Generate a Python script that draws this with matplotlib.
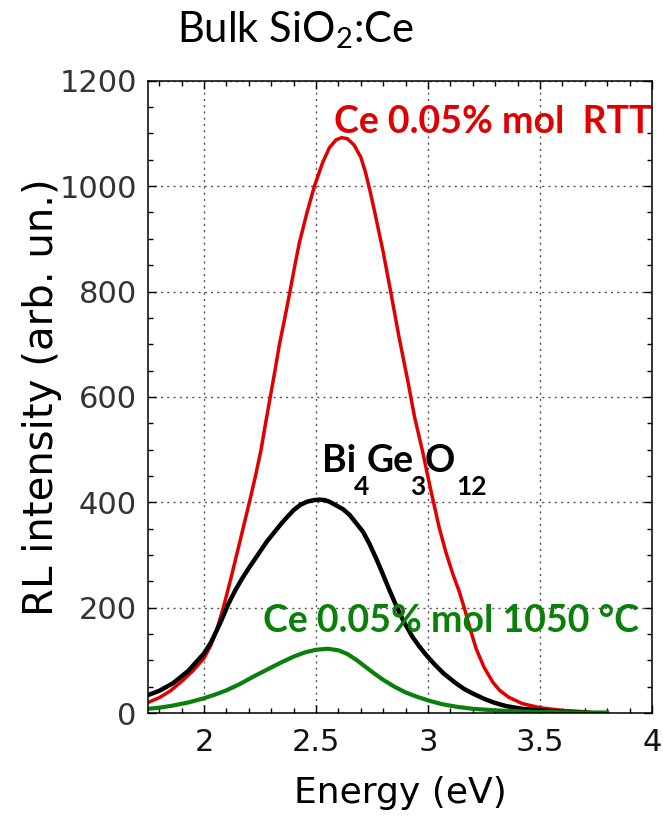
import matplotlib
matplotlib.use("Agg")
import matplotlib.pyplot as plt
from matplotlib.ticker import MultipleLocator

plt.rcParams['mathtext.fontset'] = 'custom'
plt.rcParams['mathtext.rm'] = 'Lato'
plt.rcParams['mathtext.bf'] = 'Lato:bold'

# Ce 0.05% mol RTT (red)
e_rtt = [1.75, 1.80, 1.85, 1.90, 1.95, 2.00, 2.03, 2.055, 2.085, 2.12, 2.16, 2.205,
         2.23, 2.255, 2.275, 2.296, 2.317, 2.337, 2.36, 2.382, 2.405, 2.426, 2.46, 2.493,
         2.53, 2.56, 2.59, 2.615, 2.64, 2.67, 2.70, 2.72, 2.74, 2.76, 2.78, 2.80,
         2.835, 2.87, 2.91, 2.94, 2.975, 3.01, 3.05, 3.08, 3.11, 3.14, 3.165, 3.19,
         3.215, 3.25, 3.29, 3.32, 3.36, 3.42, 3.50, 3.60, 3.72]
i_rtt = [20, 29, 42, 60, 80, 104, 128, 155, 198, 255, 325, 404,
         450, 500, 550, 600, 650, 700, 748, 796, 848, 893, 950, 1000,
         1045, 1073, 1088, 1092, 1090, 1078, 1055, 1028, 993, 955, 915, 875,
         796, 715, 630, 562, 498, 428, 352, 305, 265, 230, 195, 157,
         122, 87, 58, 43, 30, 18, 10, 5, 2]

# Bi4Ge3O12 reference (black)
e_bgo = [1.75, 1.80, 1.86, 1.93, 2.00, 2.03, 2.055, 2.08, 2.11, 2.14, 2.17, 2.20,
         2.24, 2.28, 2.31, 2.35, 2.40, 2.43, 2.46, 2.49, 2.516, 2.54, 2.56, 2.59,
         2.62, 2.65, 2.68, 2.71, 2.74, 2.77, 2.80, 2.83, 2.86, 2.89, 2.93, 2.96,
         2.99, 3.03, 3.07, 3.12, 3.16, 3.20, 3.25, 3.30, 3.35, 3.42, 3.50, 3.60, 3.70]
i_bgo = [34, 42, 56, 80, 113, 133, 155, 178, 208, 233, 255, 275,
         300, 325, 341, 362, 385, 395, 401, 404, 405, 404, 401, 394,
         387, 376, 360, 344, 320, 292, 262, 231, 202, 175, 145, 127,
         111, 92, 75, 58, 46, 37, 27, 19, 13, 8, 5, 2, 1]

# Ce 0.05% mol 1050 C (green)
e_1050 = [1.75, 1.80, 1.86, 1.93, 2.00, 2.05, 2.10, 2.16, 2.22, 2.28, 2.34, 2.40,
          2.45, 2.50, 2.553, 2.60, 2.64, 2.68, 2.72, 2.76, 2.80, 2.85, 2.90, 2.95,
          3.00, 3.06, 3.125, 3.20, 3.30, 3.40, 3.50, 3.65, 3.80]
i_1050 = [8, 10, 14, 20, 28, 35, 43, 55, 69, 82, 95, 107,
          115, 120, 122, 119, 112, 101, 88, 75, 63, 50, 39, 31,
          24, 17, 12, 8, 5, 3, 2, 1, 1]

red = '#e00000'
green = '#0a800a'

fig = plt.figure(figsize=(6.63, 8.24), dpi=100)
ax = fig.add_axes([0.2232, 0.1347, 0.7602, 0.7673])

ax.plot(e_rtt, i_rtt, color=red, lw=2.5)
ax.plot(e_bgo, i_bgo, color='black', lw=3.2)
ax.plot(e_1050, i_1050, color=green, lw=3.0)

ax.set_xlim(1.75, 4.0)
ax.set_ylim(0, 1200)
ax.xaxis.set_minor_locator(MultipleLocator(0.1))
ax.yaxis.set_major_locator(MultipleLocator(200))
ax.yaxis.set_minor_locator(MultipleLocator(50))
ax.set_xticks([2, 2.5, 3, 3.5, 4])
ax.set_xticklabels(['2', '2.5', '3', '3.5', '4'])

ax.tick_params(which='both', direction='in', top=True, right=True)
ax.tick_params(which='major', length=6, width=1)
ax.tick_params(which='minor', length=3.5, width=1)
ax.tick_params(axis='y', labelsize=22, labelcolor='#333333', pad=8)
ax.tick_params(axis='x', labelsize=22, labelcolor='#111111', pad=11)
for s in ax.spines.values():
    s.set_linewidth(1.1)

ax.grid(True, which='major', color='#555555', linestyle=(0, (1.5, 3)), linewidth=1)

ax.set_ylabel('RL intensity (arb. un.)', fontsize=29)
ax.set_xlabel('Energy (eV)', fontsize=26)
ax.yaxis.set_label_coords(-0.17, 0.5)
ax.xaxis.set_label_coords(0.5, -0.1)

lab = dict(fontfamily='Lato', fontweight='bold')
ax.text(2.582, 1101, 'Ce 0.05% mol  RTT', color=red, fontsize=27,
        ha='left', va='baseline', **lab)
ax.text(2.262, 154, 'Ce 0.05% mol 1050 °C', color=green, fontsize=27,
        ha='left', va='baseline', **lab)

# Bi4Ge3O12 with large, strongly lowered subscripts
t_bi = ax.text(2.529, 457, 'Bi', fontsize=27, ha='left', va='baseline', **lab)
t_4 = ax.annotate('4', xy=(1, 0), xycoords=t_bi, xytext=(-2, 2), textcoords='offset points',
                  fontsize=19, ha='left', va='top', **lab)
t_ge = ax.annotate('Ge', xy=(1, 0), xycoords=(t_4, t_bi), xytext=(-2, 0),
                   textcoords='offset points', fontsize=27, ha='left', va='bottom', **lab)
t_3 = ax.annotate('3', xy=(1, 0), xycoords=t_ge, xytext=(-2, 2), textcoords='offset points',
                  fontsize=19, ha='left', va='top', **lab)
t_o = ax.annotate('O', xy=(1, 0), xycoords=(t_3, t_bi), xytext=(-1, 0),
                  textcoords='offset points', fontsize=27, ha='left', va='bottom', **lab)
ax.annotate('12', xy=(1, 0), xycoords=t_o, xytext=(1, 2), textcoords='offset points',
            fontsize=19, ha='left', va='top', **lab)

fig.text(0.445, 0.949, r'Bulk SiO$_2$:Ce', fontsize=30, fontfamily='Lato',
         ha='center', va='baseline')

fig.savefig('out.png', dpi=100)
